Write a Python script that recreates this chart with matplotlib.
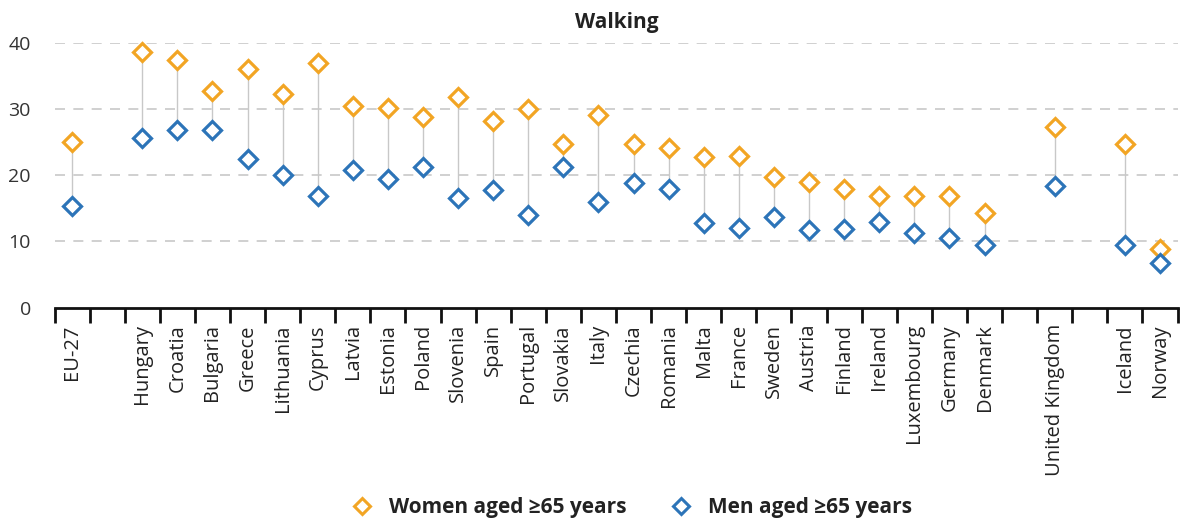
import matplotlib
matplotlib.use("Agg")
import matplotlib.pyplot as plt
from matplotlib.lines import Line2D
import numpy as np

plt.rcParams['font.family'] = ['Open Sans', 'DejaVu Sans']

categories = ["EU-27", "", "Hungary", "Croatia", "Bulgaria", "Greece", "Lithuania", "Cyprus",
              "Latvia", "Estonia", "Poland", "Slovenia", "Spain", "Portugal", "Slovakia", "Italy",
              "Czechia", "Romania", "Malta", "France", "Sweden", "Austria", "Finland", "Ireland",
              "Luxembourg", "Germany", "Denmark", "", "United Kingdom", "", "Iceland", "Norway"]
women = [25.0, None, 38.7, 37.4, 32.8, 36.1, 32.3, 37.0, 30.5, 30.2, 28.8, 31.9, 28.2, 30.1,
         24.7, 29.1, 24.8, 24.2, 22.8, 23.0, 19.8, 19.0, 17.9, 16.8, 16.8, 16.8, 14.3, None,
         27.3, None, 24.7, 8.8]
men = [15.3, None, 25.6, 26.9, 26.8, 22.5, 20.1, 16.9, 20.8, 19.5, 21.3, 16.5, 17.8, 14.0,
       21.3, 15.9, 18.8, 17.9, 12.8, 12.1, 13.7, 11.7, 11.9, 12.9, 11.2, 10.5, 9.4, None,
       18.4, None, 9.4, 6.7]
yticks = [0, 10, 20, 30, 40]

ORANGE = "#F2A524"
BLUE = "#2C74B8"

fig = plt.figure(figsize=(11.8, 5.23), dpi=100)
ax = fig.add_axes([0.0462, 0.412, 0.9517, 0.5055])

x = np.arange(len(categories))
for xi, w, m in zip(x, women, men):
    if w is None:
        continue
    ax.plot([xi, xi], [m, w], color="#c8c8c8", lw=1.0, zorder=2)
xs = [xi for xi, w in zip(x, women) if w is not None]
ws = [w for w in women if w is not None]
ms = [m for m in men if m is not None]
ax.plot(xs, ws, ls="none", marker="D", ms=9, mfc="white", mec=ORANGE, mew=2.3, zorder=3, clip_on=False)
ax.plot(xs, ms, ls="none", marker="D", ms=9, mfc="white", mec=BLUE, mew=2.3, zorder=3, clip_on=False)

ax.set_xlim(-0.5, len(categories) - 0.5)
ax.set_ylim(0, 40)
ax.set_yticks(yticks)
ax.set_yticklabels([str(v) for v in yticks], fontsize=14, color="#333333")
ax.tick_params(axis="y", length=0, pad=17)
for v in yticks[1:]:
    ax.axhline(v, color="#c8c8c8", lw=1.2, ls=(0, (6, 5)), zorder=1)

ax.set_xticks(x)
ax.set_xticklabels(categories, rotation=90, fontsize=14.5, color="#222222")
ax.tick_params(axis="x", which="major", length=0, pad=12)
ax.set_xticks(np.arange(len(categories) + 1) - 0.5, minor=True)
ax.tick_params(axis="x", which="minor", length=10.5, width=2, color="#111111")

for s in ["top", "right", "left"]:
    ax.spines[s].set_visible(False)
ax.spines["bottom"].set_linewidth(2)
ax.spines["bottom"].set_color("#111111")

fig.text(0.523, 0.957, "Walking", ha="center", va="center", fontsize=15, fontweight="bold", color="#222222")

handles = [Line2D([], [], ls="none", marker="D", ms=8, mfc="white", mec=ORANGE, mew=2.2),
           Line2D([], [], ls="none", marker="D", ms=8, mfc="white", mec=BLUE, mew=2.2)]
fig.legend(handles, ["Women aged ≥65 years", "Men aged ≥65 years"], loc="center",
           bbox_to_anchor=(0.531, 0.03), ncol=2, frameon=False, handletextpad=0.3,
           columnspacing=1.6, prop={"size": 15, "weight": "bold"}, labelcolor="#222222")

fig.savefig("out.png", dpi=100)
